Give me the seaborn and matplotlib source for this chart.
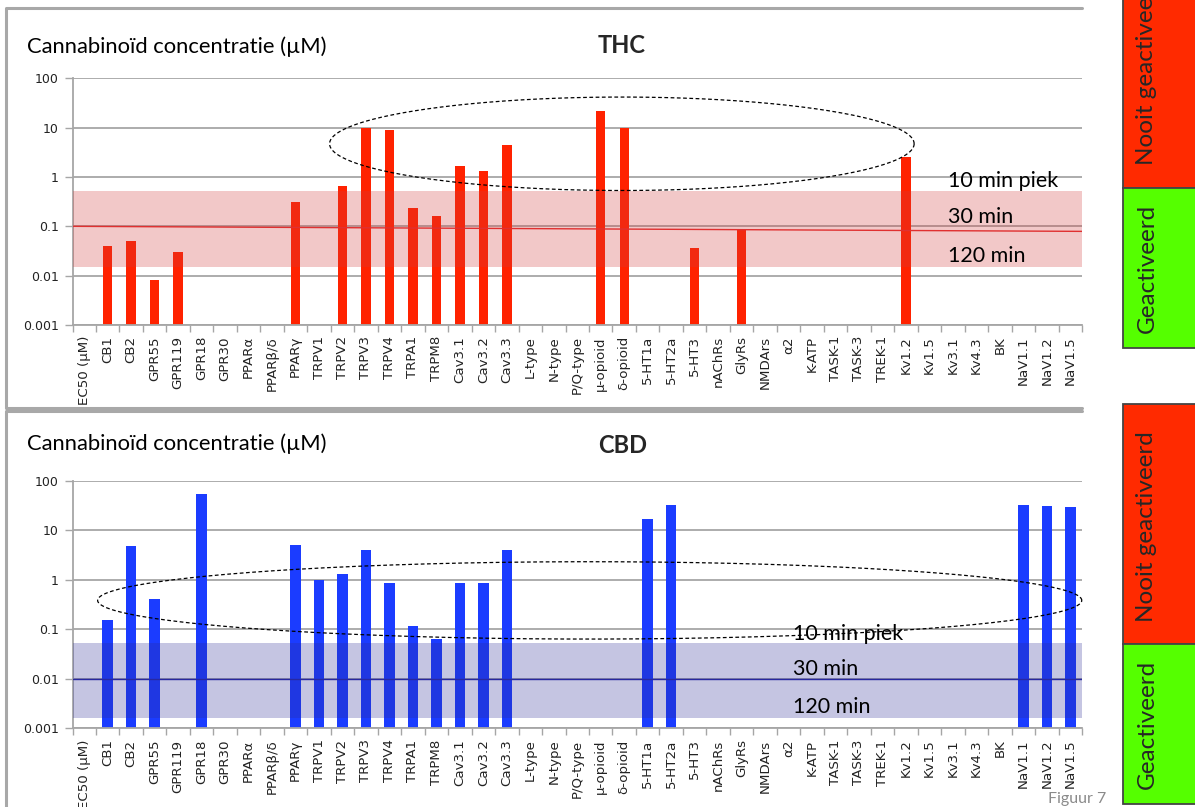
import numpy as np
import pandas as pd
import matplotlib
matplotlib.use("Agg")
import matplotlib.pyplot as plt
import matplotlib.ticker as mticker
from matplotlib.patches import Rectangle
import seaborn as sns

# ---------------------------------------------------------------
# data: EC50 (µM) per target
# ---------------------------------------------------------------
categories = ['EC50 (µM)', 'CB1', 'CB2', 'GPR55', 'GPR119', 'GPR18', 'GPR30', 'PPARα',
              'PPARβ/δ', 'PPARγ', 'TRPV1', 'TRPV2', 'TRPV3', 'TRPV4', 'TRPA1', 'TRPM8',
              'Cav3.1', 'Cav3.2', 'Cav3.3', 'L-type', 'N-type', 'P/Q-type', 'µ-opioid',
              'δ-opioid', '5-HT1a', '5-HT2a', '5-HT3', 'nAChRs', 'GlyRs', 'NMDArs', 'α2',
              'K-ATP', 'TASK-1', 'TASK-3', 'TREK-1', 'Kv1.2', 'Kv1.5', 'Kv3.1', 'Kv4.3',
              'BK', 'NaV1.1', 'NaV1.2', 'NaV1.5']

thc_targets = ['CB1', 'CB2', 'GPR55', 'GPR119', 'PPARγ', 'TRPV2', 'TRPV3', 'TRPV4', 'TRPA1',
               'TRPM8', 'Cav3.1', 'Cav3.2', 'Cav3.3', 'µ-opioid', 'δ-opioid', '5-HT3',
               'GlyRs', 'Kv1.2']
thc_ec50 = [0.04, 0.05, 0.008, 0.03, 0.31, 0.66, 10.0, 8.9, 0.23,
            0.16, 1.65, 1.33, 4.4, 22.0, 10.0, 0.037,
            0.087, 2.5]

cbd_targets = ['CB1', 'CB2', 'GPR55', 'GPR18', 'PPARγ', 'TRPV1', 'TRPV2', 'TRPV3', 'TRPV4',
               'TRPA1', 'TRPM8', 'Cav3.1', 'Cav3.2', 'Cav3.3', '5-HT1a', '5-HT2a',
               'NaV1.1', 'NaV1.2', 'NaV1.5']
cbd_ec50 = [0.155, 4.8, 0.41, 55.0, 5.1, 1.0, 1.28, 3.9, 0.85,
            0.118, 0.064, 0.85, 0.85, 3.9, 16.8, 33.0,
            33.0, 31.0, 29.0]

# plasma concentration band (120 min .. 10 min piek) and 30 min line (left, right)
thc_band = [0.015, 0.52]
thc_line = [0.1, 0.079]
cbd_band = [0.0016, 0.052]
cbd_line = [0.01, 0.01]

time_labels = ['10 min piek', '30 min', '120 min']
ytick_vals = [0.001, 0.01, 0.1, 1, 10, 100]
ytick_labels = ['0.001', '0.01', '0.1', '1', '10', '100']

# ---------------------------------------------------------------
sns.set_theme(style='white')
plt.rcParams['font.family'] = ['DejaVu Sans']

W, H = 1195, 807
fig = plt.figure(figsize=(W / 100, H / 100), dpi=100)


def pixel_layer(z):
    a = fig.add_axes([0, 0, 1, 1], zorder=z)
    a.set_xlim(0, W)
    a.set_ylim(H, 0)
    a.axis('off')
    a.patch.set_alpha(0)
    return a


bg = pixel_layer(-1)

GRID = '#A6A6A6'


def px_axes(left, top, right, bottom):
    return fig.add_axes([left / W, 1 - bottom / H, (right - left) / W, (bottom - top) / H])


def draw_panel(ax, targets, values, color, width, band, band_col, band_alpha, line, line_col, ellipse):
    df = pd.DataFrame({'target': targets, 'ec50': values})
    sns.barplot(data=df, x='target', y='ec50', order=categories, color=color,
                saturation=1, width=width, errorbar=None, ax=ax, zorder=2)
    for p in ax.patches:
        p.set_edgecolor('none')
    ax.set_yscale('log')
    ax.set_ylim(0.001, 100)
    ax.set_xlim(-0.5, len(categories) - 0.5)
    ax.set_facecolor('none')

    # band + 30 min line, drawn over the bars
    ax.axhspan(band[0], band[1], color=band_col, alpha=band_alpha, lw=0, zorder=3)
    ax.plot([-0.5, len(categories) - 0.5], line, color=line_col, lw=1.0, zorder=4)

    # dashed ellipse (in log space)
    cx, hw, cy, hh = ellipse
    t = np.linspace(0, 2 * np.pi, 400)
    ax.plot(cx + hw * np.cos(t), 10 ** (cy + hh * np.sin(t)), color='black',
            lw=0.9, ls=(0, (3, 2)), zorder=5, clip_on=False)

    ax.yaxis.set_major_locator(mticker.FixedLocator(ytick_vals))
    ax.yaxis.set_major_formatter(mticker.FixedFormatter(ytick_labels))
    ax.yaxis.set_minor_locator(mticker.NullLocator())
    ax.yaxis.grid(True, color=GRID, lw=1.3, zorder=0)
    ax.set_axisbelow(True)

    ax.set_xticks(range(len(categories)))
    ax.set_xticklabels(categories, rotation=90, fontsize=9.6, color='#222222')
    ax.xaxis.set_minor_locator(mticker.FixedLocator(np.arange(-0.5, len(categories), 1.0)))
    ax.tick_params(axis='x', which='major', length=0, pad=8)
    ax.tick_params(axis='x', which='minor', length=5, width=1, color=GRID, bottom=True)
    ax.tick_params(axis='y', which='major', length=6, width=1, color=GRID, left=True,
                   labelsize=9, labelcolor='#222222', pad=4)

    for s in ['top', 'right']:
        ax.spines[s].set_visible(False)
    for s in ['left', 'bottom']:
        ax.spines[s].set_color(GRID)
        ax.spines[s].set_linewidth(1.3)
    ax.set_xlabel('')
    ax.set_ylabel('')


ax1 = px_axes(72.5, 78.3, 1082, 325)
draw_panel(ax1, thc_targets, thc_ec50, '#FF2200', 0.40, thc_band, '#D23C3C', 0.28,
           thc_line, '#E03030', (22.9, 12.45, 0.673, 0.947))

ax2 = px_axes(72.5, 480.7, 1082, 728.3)
draw_panel(ax2, cbd_targets, cbd_ec50, '#1B3CFF', 0.45, cbd_band, '#2C2C96', 0.27,
           cbd_line, '#2828A0', (21.53, 20.96, -0.417, 0.781))

# panel frames
FRAME = '#A8A8A8'
bg.plot([1082, 6, 6, 1082], [8, 8, 408, 408], color=FRAME, lw=2.2)
bg.plot([1082, 6, 6], [411, 411, 810], color=FRAME, lw=2.2)

# titles
for ybase_sub, ybase_title, name in [(53, 53, 'THC'), (450, 453, 'CBD')]:
    bg.text(27, ybase_sub, 'Cannabinoïd concentratie (µM)',
            fontsize=15.8, family='Lato', color='black', va='baseline')
    bg.text(598, ybase_title, name, fontsize=17, family='Lato', weight='bold', va='baseline')

# time labels next to the bands, on a layer above the charts
fg = pixel_layer(10)
for (x0, ys) in [(948, [187, 223, 262]), (793, [640, 675, 713])]:
    for lab, yb in zip(time_labels, ys):
        fg.text(x0, yb, lab, fontsize=15.5, family='Lato', color='black', va='baseline')

# side legend blocks
RED, GREEN = '#FF2A00', '#55FF00'
for top, mid, bot, red_txt_y in [(-5, 188, 348, 165), (404, 644, 804, 622)]:
    bg.add_patch(Rectangle((1123, top), 90, mid - top, facecolor=RED, edgecolor='#444444', lw=1.3))
    bg.add_patch(Rectangle((1123, mid), 90, bot - mid, facecolor=GREEN, edgecolor='#444444', lw=1.3))
    bg.text(1147, red_txt_y, 'Nooit geactiveerd', rotation=90, rotation_mode='anchor',
            ha='left', va='center', fontsize=17.5, family='Lato')
    bg.text(1147, (mid + bot) / 2, 'Geactiveerd', rotation=90, ha='center', va='center',
            fontsize=17.5, family='Lato')

bg.text(1048, 803, 'Figuur 7', fontsize=11.5, family='Lato', color='#8A8A8A', va='baseline')

fig.savefig('out.png', dpi=100)
